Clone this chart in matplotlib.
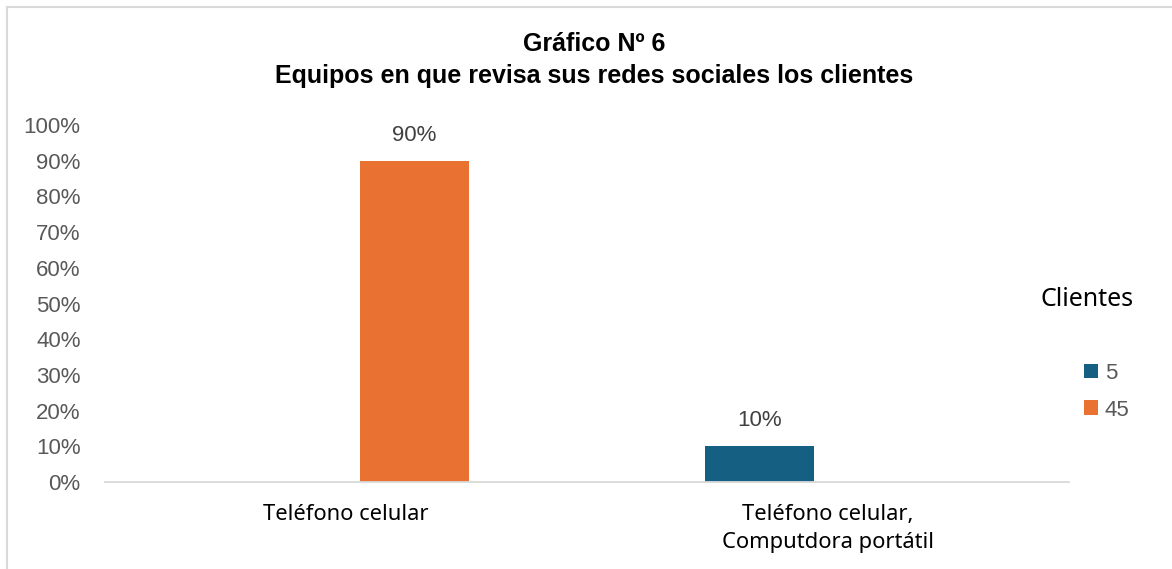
import matplotlib.pyplot as plt
from matplotlib.lines import Line2D
import numpy as np

categorias = ['Teléfono celular', 'Teléfono celular,\nComputdora portátil']
serie_5 = [0.0, 0.10]
serie_45 = [0.90, 0.0]
ticks_y = [0, 0.1, 0.2, 0.3, 0.4, 0.5, 0.6, 0.7, 0.8, 0.9, 1.0]

azul = '#156082'
naranja = '#E97132'
gris = '#595959'

plt.rcParams['font.family'] = ['Liberation Sans', 'DejaVu Sans']

fig = plt.figure(figsize=(11.72, 5.69), dpi=100)
ax = fig.add_axes([105 / 1172, 87 / 569, (1069 - 105) / 1172, (482 - 125) / 569])

x = np.arange(len(categorias))
ancho = 0.226
off = 0.142
b1 = ax.bar(x - off, serie_5, ancho, color=azul, label='5')
b2 = ax.bar(x + off, serie_45, ancho, color=naranja, label='45')

for barras in (b1, b2):
    for r in barras:
        h = r.get_height()
        if h > 0:
            ax.annotate(f'{h:.0%}', (r.get_x() + r.get_width() / 2, h),
                        xytext=(0, 18.5), textcoords='offset points',
                        ha='center', va='center', fontsize=16, color='#404040')

ax.set_xlim(-0.5, 1.5)
ax.set_ylim(0, 1)
ax.set_yticks(ticks_y)
ax.set_yticklabels([f'{int(round(t * 100))}%' for t in ticks_y], fontsize=16, color=gris)
ax.set_xticks(x)
ax.set_xticklabels(categorias, fontsize=15.8, color='black', family=['Noto Sans', 'DejaVu Sans'],
                   linespacing=1.4, va='top')
ax.tick_params(axis='both', length=0)
ax.tick_params(axis='y', pad=17.5)
ax.tick_params(axis='x', pad=16)
for s in ['top', 'right', 'left']:
    ax.spines[s].set_visible(False)
ax.spines['bottom'].set_color('#D9D9D9')
ax.spines['bottom'].set_linewidth(1.3)

fig.text(594 / 1172, 1 - 44 / 569, 'Gráfico Nº 6', ha='center', va='center',
         fontsize=18, fontweight='bold')
fig.text(594 / 1172, 1 - 76 / 569, 'Equipos en que revisa sus redes sociales los clientes',
         ha='center', va='center', fontsize=18, fontweight='bold')

fig.text(1087 / 1172, 1 - 299 / 569, 'Clientes', ha='center', va='center',
         fontsize=18, family=['Noto Sans', 'DejaVu Sans'])
leg = fig.legend(handles=[b1, b2], labels=['5', '45'], loc='upper left',
                 bbox_to_anchor=(1084 / 1172, 1 - 363 / 569), frameon=False,
                 fontsize=16, handlelength=0.63, handleheight=0.63, handletextpad=0.3,
                 labelspacing=0.7, borderaxespad=0, borderpad=0)
for t in leg.get_texts():
    t.set_color(gris)

# borde del cuadro del grafico
fig.add_artist(Line2D([7 / 1172, 7 / 1172], [0, 1 - 7 / 569], color='#D9D9D9', lw=1.5))
fig.add_artist(Line2D([7 / 1172, 1], [1 - 7 / 569, 1 - 7 / 569], color='#D9D9D9', lw=1.5))

fig.savefig('out.png', dpi=100)
